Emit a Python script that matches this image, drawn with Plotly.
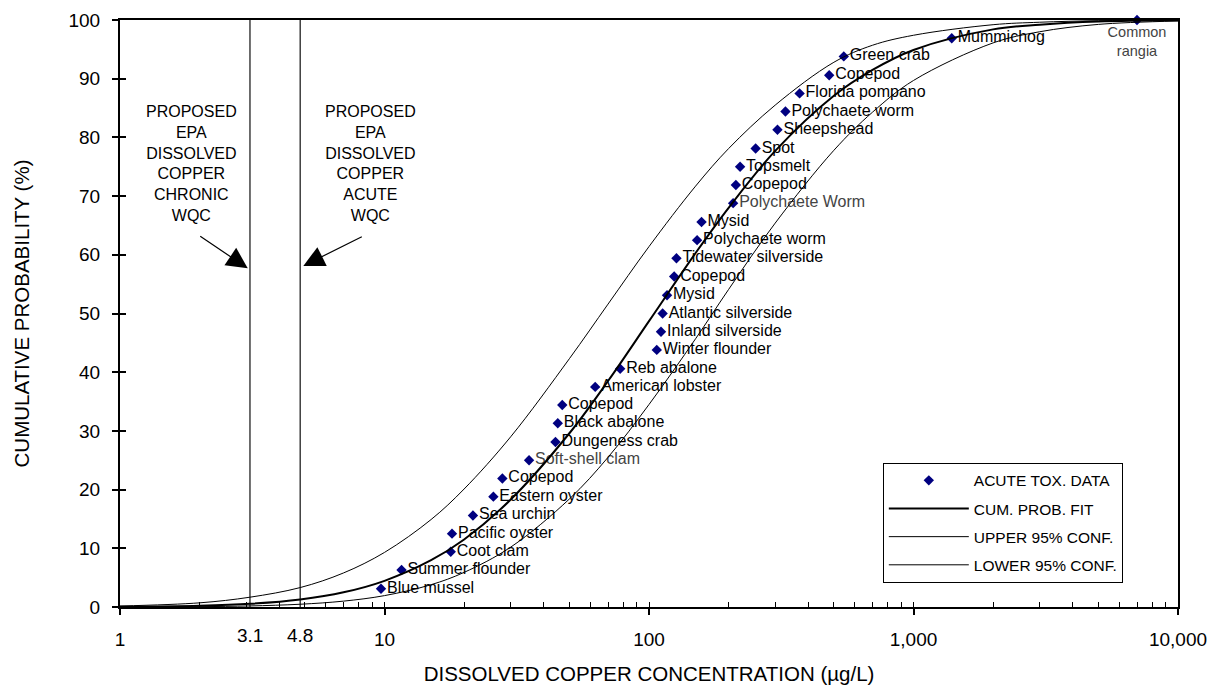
import numpy as np
import plotly.graph_objects as go

FONT = "Arial, Liberation Sans, sans-serif"

# ---- data ----
SPECIES = ["Blue mussel", "Summer flounder", "Coot clam", "Pacific oyster", "Sea urchin",
           "Eastern oyster", "Copepod", "Soft-shell clam", "Dungeness crab", "Black abalone",
           "Copepod", "American lobster", "Reb abalone", "Winter flounder", "Inland silverside",
           "Atlantic silverside", "Mysid", "Copepod", "Tidewater silverside", "Polychaete worm",
           "Mysid", "Polychaete Worm", "Copepod", "Topsmelt", "Spot", "Sheepshead",
           "Polychaete worm", "Florida pompano", "Copepod", "Green crab", "Mummichog",
           "Common<br>rangia"]
CONC = [9.7, 11.6, 17.8, 18.0, 21.6, 25.8, 27.9, 35.2, 44.3, 45.2, 47.0, 62.6, 77.8, 107, 111,
        112.6, 117, 124.5, 127, 152, 158, 208, 213, 221, 253, 306, 328, 371, 480, 545, 1395, 7000]
CUM_PROB = [3.1, 6.3, 9.4, 12.5, 15.6, 18.8, 21.9, 25.0, 28.1, 31.3, 34.4, 37.5, 40.6, 43.8,
            46.9, 50.0, 53.1, 56.3, 59.4, 62.5, 65.6, 68.8, 71.9, 75.0, 78.1, 81.3, 84.4, 87.5,
            90.6, 93.8, 96.9, 100.0]
GRAY_LABELS = {"Soft-shell clam", "Polychaete Worm", "Common<br>rangia"}

CURVE_X = [1, 2, 3.1, 4.8, 7, 10, 15, 20, 30, 50, 70, 100, 150, 200, 300, 500, 700, 1000,
           2000, 3000, 5000, 10000]
FIT_Y = [0.04, 0.21, 0.54, 1.28, 2.5, 4.46, 7.97, 11.5, 18.3, 29.6, 38.5, 48.7, 60.3, 68.0,
         77.7, 87.1, 91.5, 94.9, 98.4, 99.2, 99.74, 99.95]
UPPER_Y = [0.17, 0.71, 1.67, 3.31, 5.8, 9.3, 14.9, 20.1, 29.0, 42.3, 51.6, 61.4, 71.7, 78.1,
           85.5, 92.8, 95.7, 97.4, 99.2, 99.62, 99.88, 99.98]
LOWER_Y = [0.01, 0.06, 0.18, 0.47, 1.0, 1.94, 3.8, 5.9, 10.2, 18.4, 25.5, 34.5, 45.7, 54.1,
           65.4, 77.8, 84.3, 89.7, 96.1, 98.0, 99.25, 99.83]

CHRONIC_WQC = 3.1
ACUTE_WQC = 4.8

X_MAJOR = [1, 10, 100, 1000, 10000]
X_MAJOR_TEXT = ["1", "10", "100", "1,000", "10,000"]
Y_TICKS = [0, 10, 20, 30, 40, 50, 60, 70, 80, 90, 100]

fig = go.Figure()

# criteria lines
for v in (CHRONIC_WQC, ACUTE_WQC):
    fig.add_trace(go.Scatter(x=[v, v], y=[0, 100], mode="lines",
                             line=dict(color="#222222", width=1.3),
                             showlegend=False, hoverinfo="skip"))

positions = ["bottom center" if s.startswith("Common") else "middle right" for s in SPECIES]
colors = ["#444444" if s in GRAY_LABELS else "#000000" for s in SPECIES]
sizes = [14.5 if s.startswith("Common") else 16 for s in SPECIES]

fig.add_trace(go.Scatter(
    x=CONC, y=CUM_PROB, mode="markers+text", name="ACUTE TOX. DATA",
    text=SPECIES, textposition=positions,
    textfont=dict(family=FONT, size=sizes, color=colors),
    marker=dict(symbol="diamond", size=8, color="#000080"),
    cliponaxis=False, legendgroup="a"))
fig.add_trace(go.Scatter(x=CURVE_X, y=FIT_Y, mode="lines", name="CUM. PROB. FIT",
                         line=dict(color="black", width=2, shape="spline"), legendgroup="b"))
fig.add_trace(go.Scatter(x=CURVE_X, y=UPPER_Y, mode="lines", name="UPPER 95% CONF.",
                         line=dict(color="black", width=1, shape="spline"), legendgroup="c"))
fig.add_trace(go.Scatter(x=CURVE_X, y=LOWER_Y, mode="lines", name="LOWER 95% CONF.",
                         line=dict(color="black", width=1, shape="spline"), legendgroup="d"))

# dummy trace for the overlay axes that carry the inner tick marks
fig.add_trace(go.Scatter(x=[1], y=[0], xaxis="x2", yaxis="y2", mode="markers",
                         marker=dict(opacity=0), showlegend=False, hoverinfo="skip"))

minor_vals = [m * d for d in (1, 10, 100, 1000) for m in range(1, 11)]

ann = []
for v in (CHRONIC_WQC, ACUTE_WQC):
    ann.append(dict(x=np.log10(v), y=0, xref="x", yref="paper", text=str(v),
                    showarrow=False, yanchor="top", yshift=-16,
                    font=dict(family=FONT, size=19, color="black")))
ann.append(dict(x=0.271, y=75.6, xref="x", yref="y",
                text="PROPOSED<br>EPA<br>DISSOLVED<br>COPPER<br>CHRONIC<br>WQC",
                showarrow=False, font=dict(family=FONT, size=16, color="black")))
ann.append(dict(x=0.9455, y=75.6, xref="x", yref="y",
                text="PROPOSED<br>EPA<br>DISSOLVED<br>COPPER<br>ACUTE<br>WQC",
                showarrow=False, font=dict(family=FONT, size=16, color="black")))
ann.append(dict(x=0.483, y=57.7, xref="x", yref="y", text="", showarrow=True,
                ax=-49, ay=-33, arrowhead=2, arrowsize=3.5, arrowwidth=1.2, arrowcolor="black"))
ann.append(dict(x=0.693, y=58.1, xref="x", yref="y", text="", showarrow=True,
                ax=60, ay=-30, arrowhead=2, arrowsize=3.5, arrowwidth=1.2, arrowcolor="black"))

fig.update_layout(
    width=1213, height=677,
    margin=dict(l=112, r=43, t=12, b=78, autoexpand=False),
    paper_bgcolor="white", plot_bgcolor="white",
    font=dict(family=FONT, color="black"),
    showlegend=True,
    legend=dict(x=0.721, y=0.2457, xanchor="left", yanchor="top",
                bordercolor="black", borderwidth=1, bgcolor="white",
                font=dict(family=FONT, size=15.5, color="black"),
                tracegroupgap=5, itemwidth=80),
    xaxis=dict(type="log", range=[0, 4], tickvals=X_MAJOR, ticktext=X_MAJOR_TEXT,
               automargin=False,
               ticks="outside", ticklen=6, tickwidth=1.5, tickcolor="black",
               tickfont=dict(family=FONT, size=19), ticklabelstandoff=8,
               showline=True, linecolor="black", linewidth=2, mirror=True,
               showgrid=False, zeroline=False,
               title=dict(text="DISSOLVED COPPER CONCENTRATION (µg/L)",
                          font=dict(family=FONT, size=20.5), standoff=18)),
    yaxis=dict(range=[0, 100], tickvals=Y_TICKS, automargin=False,
               ticks="outside", ticklen=6, tickwidth=1.5, tickcolor="black",
               tickfont=dict(family=FONT, size=19), ticklabelstandoff=8,
               showline=True, linecolor="black", linewidth=2, mirror=True,
               showgrid=False, zeroline=False,
               title=dict(text="CUMULATIVE PROBABILITY (%)",
                          font=dict(family=FONT, size=20.5), standoff=33)),
    xaxis2=dict(type="log", range=[0, 4], overlaying="x", anchor="y2", side="bottom",
                automargin=False,
                tickvals=minor_vals, ticks="inside", ticklen=5, tickwidth=1, tickcolor="black",
                showticklabels=False, showline=False, showgrid=False, zeroline=False),
    yaxis2=dict(range=[0, 100], overlaying="y", anchor="x2", side="left", automargin=False,
                tickvals=Y_TICKS, ticks="inside", ticklen=6, tickwidth=1.5, tickcolor="black",
                showticklabels=False, showline=False, showgrid=False, zeroline=False),
    annotations=ann,
)

fig.write_html("out.html")
